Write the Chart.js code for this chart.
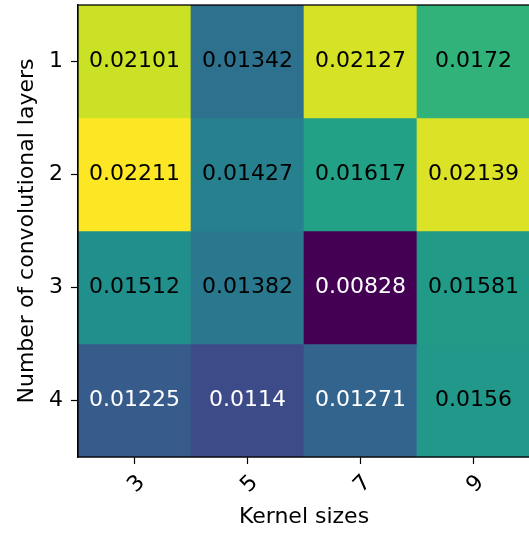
<!DOCTYPE html>
<html>
<head>
<meta charset="utf-8">
<script src="https://cdn.jsdelivr.net/npm/chart.js@4/dist/chart.umd.min.js"></script>
<style>
  html, body { margin: 0; padding: 0; background: #fff; overflow: hidden; }
  #wrap { width: 531px; height: 534px; }
</style>
</head>
<body>
<div id="wrap"><canvas id="c" width="531" height="534"></canvas></div>
<script>
// Grid search results: mean error for each (layers, kernel size) pair
const kernelSizes = ['3', '5', '7', '9'];
const layerCounts = [1, 2, 3, 4];
const layers1 = [0.02101, 0.01342, 0.02127, 0.0172];
const layers2 = [0.02211, 0.01427, 0.01617, 0.02139];
const layers3 = [0.01512, 0.01382, 0.00828, 0.01581];
const layers4 = [0.01225, 0.0114, 0.01271, 0.0156];
const rows = [layers1, layers2, layers3, layers4];

// viridis colormap stops
const VIRIDIS = ['#440154', '#482475', '#414487', '#355f8d', '#2a788e', '#21918c',
                 '#22a884', '#44bf70', '#7ad151', '#bddf26', '#fde725'];
function hexToRgb(h) {
  return [parseInt(h.slice(1, 3), 16), parseInt(h.slice(3, 5), 16), parseInt(h.slice(5, 7), 16)];
}
function viridis(t) {
  t = Math.max(0, Math.min(1, t));
  const p = t * (VIRIDIS.length - 1);
  const i = Math.min(Math.floor(p), VIRIDIS.length - 2);
  const f = p - i;
  const a = hexToRgb(VIRIDIS[i]), b = hexToRgb(VIRIDIS[i + 1]);
  const c = a.map((v, k) => Math.round(v + (b[k] - v) * f));
  return `rgb(${c[0]},${c[1]},${c[2]})`;
}
const allVals = rows.flat();
const vmin = Math.min(...allVals), vmax = Math.max(...allVals);
const colorFor = v => viridis((v - vmin) / (vmax - vmin));
const textThreshold = 0.013;

const FONT = "'DejaVu Sans', sans-serif";

// one floating-bar dataset per row, each cell spans its row index ± 0.5
const datasets = rows.map((vals, r) => ({
  label: String(layerCounts[r]),
  data: vals.map(() => [layerCounts[r] - 0.5, layerCounts[r] + 0.5]),
  values: vals,
  backgroundColor: vals.map(colorFor),
  borderWidth: 0,
  barPercentage: 1,
  categoryPercentage: 1,
  grouped: false
}));

const cellLabels = {
  id: 'cellLabels',
  afterDatasetsDraw(chart) {
    const ctx = chart.ctx;
    ctx.save();
    ctx.font = `22px ${FONT}`;
    ctx.textAlign = 'center';
    ctx.textBaseline = 'middle';
    chart.data.datasets.forEach((ds, di) => {
      chart.getDatasetMeta(di).data.forEach((el, i) => {
        const v = ds.values[i];
        const p = el.getCenterPoint();
        ctx.fillStyle = v < textThreshold ? '#ffffff' : '#000000';
        ctx.fillText(String(v), p.x, p.y);
      });
    });
    ctx.restore();
  }
};

const frame = {
  id: 'frame',
  afterDraw(chart) {
    const a = chart.chartArea, ctx = chart.ctx;
    ctx.save();
    ctx.strokeStyle = '#000';
    ctx.lineWidth = 1.3;
    ctx.strokeRect(a.left, a.top, a.right - a.left, a.bottom - a.top);
    ctx.restore();
  }
};

new Chart(document.getElementById('c'), {
  type: 'bar',
  data: { labels: kernelSizes, datasets },
  plugins: [cellLabels, frame],
  options: {
    responsive: false,
    devicePixelRatio: 1,
    animation: false,
    layout: { padding: { top: 5, right: 1, left: 0, bottom: 0 } },
    plugins: { legend: { display: false }, tooltip: { enabled: false } },
    scales: {
      x: {
        type: 'category',
        offset: true,
        grid: { display: true, offset: false, drawOnChartArea: false, drawTicks: true, tickLength: 7, color: '#000', tickWidth: 1.2 },
        border: { display: true, color: '#000', width: 1.3 },
        ticks: { color: '#000', font: { family: FONT, size: 22 }, minRotation: 45, maxRotation: 45, padding: 6, labelOffset: 7 },
        title: { display: true, text: 'Kernel sizes', color: '#000', font: { family: FONT, size: 22, lineHeight: 1.2 }, padding: { top: 0, bottom: 4 } },
        afterFit(scale) {
          scale.height = 77;
          scale.paddingLeft = 0;
          scale.paddingRight = 0;
        }
      },
      y: {
        type: 'linear',
        reverse: true,
        min: 0.5,
        max: 4.5,
        afterBuildTicks(scale) { scale.ticks = layerCounts.map(v => ({ value: v })); },
        grid: { display: true, drawOnChartArea: false, drawTicks: true, tickLength: 7, color: '#000', tickWidth: 1.2 },
        border: { display: true, color: '#000', width: 1.3 },
        ticks: { color: '#000', font: { family: FONT, size: 22 }, padding: 8 },
        title: { display: true, text: 'Number of convolutional layers', color: '#000', font: { family: FONT, size: 22, lineHeight: 1.2 }, padding: { top: 14, bottom: 0 } },
        afterFit(scale) {
          scale.width = 78;
          scale.paddingTop = 0;
          scale.paddingBottom = 0;
        }
      }
    }
  }
});
</script>
</body>
</html>
